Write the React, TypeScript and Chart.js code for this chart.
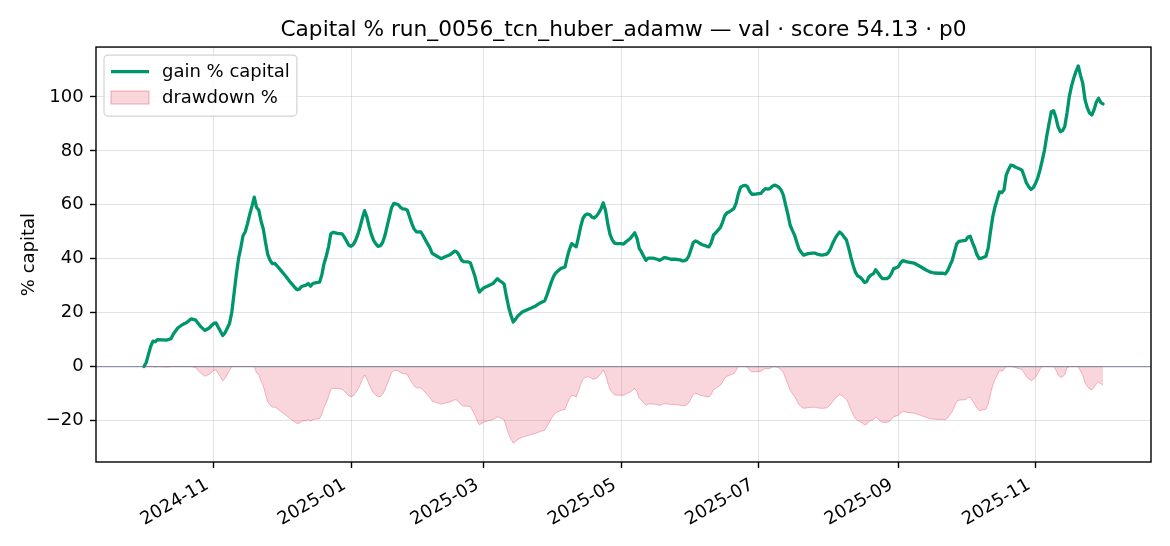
import React, { useEffect, useRef } from "react";
import { Chart, registerables } from "chart.js";

Chart.register(...registerables);

// ---- data ----
const START_DATE = "2024-10-01"; // day offset 0
const dayOffsets = [
  0, 1, 2, 3, 4, 5, 6, 8, 10, 12, 13, 15, 17, 19, 21, 23, 25, 27, 29, 31, 32, 33, 35, 36, 38, 39,
  40, 41, 42, 43, 44, 45, 46, 47, 48, 49, 50, 51, 52, 53, 54, 55, 56, 57, 58, 59, 61, 63, 65, 67,
  68, 69, 70, 72, 73, 74, 75, 76, 78, 79, 80, 81, 82, 83, 84, 86, 88, 89, 90, 91, 92, 93, 94, 95,
  96, 97, 98, 99, 100, 101, 102, 103, 104, 105, 106, 107, 108, 109, 110, 111, 112, 113, 114, 115,
  116, 117, 118, 119, 120, 121, 123, 124, 125, 126, 127, 128, 130, 132, 134, 136, 138, 139, 140,
  141, 142, 144, 145, 146, 147, 148, 149, 150, 151, 153, 155, 157, 158, 159, 160, 161, 162, 163,
  164, 165, 166, 168, 170, 172, 174, 176, 178, 179, 180, 181, 182, 183, 185, 187, 188, 189, 190,
  191, 192, 193, 194, 195, 196, 197, 198, 199, 200, 201, 202, 203, 204, 205, 206, 207, 208, 209,
  210, 212, 213, 214, 216, 218, 219, 220, 221, 222, 223, 224, 226, 228, 229, 230, 231, 232, 234,
  236, 238, 239, 240, 241, 242, 243, 244, 245, 246, 247, 248, 250, 251, 252, 253, 254, 255, 256,
  257, 258, 259, 260, 262, 263, 264, 265, 266, 267, 268, 269, 270, 272, 273, 274, 275, 276, 277,
  278, 279, 280, 281, 282, 283, 284, 285, 286, 287, 288, 289, 290, 291, 292, 293, 294, 295, 297,
  298, 299, 301, 303, 304, 305, 306, 307, 308, 309, 310, 311, 312, 313, 314, 315, 316, 317, 318,
  319, 320, 321, 322, 323, 324, 325, 326, 327, 328, 330, 331, 332, 333, 334, 335, 336, 337, 339,
  342, 345, 347, 349, 351, 353, 355, 356, 357, 358, 359, 360, 361, 362, 364, 365, 366, 367, 368,
  369, 370, 371, 372, 374, 375, 376, 377, 378, 379, 380, 381, 382, 383, 384, 385, 386, 387, 389,
  390, 391, 392, 393, 394, 395, 396, 397, 398, 399, 400, 401, 402, 403, 404, 405, 406, 407, 408,
  409, 410, 411, 412, 413, 414, 415, 416, 417, 418, 419, 420, 421, 422, 423, 424, 425, 426,
];

const gainPct = [
  0, 1.5, 4.5, 7.5, 9.4, 9.2, 10, 9.9, 9.8, 10.3, 12, 14.3, 15.5, 16.3, 17.7, 17.2, 15, 13.4, 14.3,
  16, 16.2, 14.6, 11.5, 12.5, 16, 20,
  27, 34, 40, 44, 48.5, 50, 53, 56.5, 59.5, 62.8, 59, 58, 54, 51, 46, 41.5, 39.5, 38.2, 38.3, 37.5,
  35.5, 33.5, 31.3, 29.3,
  28.5, 28.7, 29.7, 30.2, 30.8, 29.8, 30.8, 31, 31.3, 34, 38.2, 41, 44.5, 49.2, 49.8, 49.4, 49.2,
  48, 46.5, 45, 44.6, 45.3, 46.8, 49,
  51.8, 55, 57.8, 55.5, 52, 49, 46.8, 45.5, 44.6, 44.8, 46, 48.5, 52, 55.5, 59, 60.5, 60.3, 60, 59,
  58.5,
  58.4, 58, 55.5, 53, 51, 50, 49.9, 48.5, 47, 45.5, 44, 42, 41, 40, 40.8, 41.5, 42.8, 42.5, 41.3,
  39.5, 38.9, 38.8, 38.5, 36, 33.5, 30, 27.6, 28.5, 29.2, 30, 30.8, 32.6, 31.8, 31.3, 30.5, 26, 22,
  19,
  16.5, 17.5, 18.7, 20.2, 21, 21.7, 22.5, 23.6, 24.4, 26.5, 29, 31.5, 33.5, 34.8, 36.3, 36.9, 40.5,
  43.5, 45.6,
  45, 44.4, 48, 52, 55, 56.2, 56.6, 56.3, 55.4, 55.1, 55.8, 57, 58.5, 60.7, 58, 53, 49, 47, 45.8,
  45.6, 45.6, 45.4, 46.2, 47.5, 49.6, 47.5, 43.8, 42.5, 40.8, 39.4, 40.2, 40.2, 39.8, 39.4, 39.8,
  40.4, 40.3, 39.8,
  39.8, 39.6, 39.2, 39.2, 39.6, 41, 43.5, 46, 46.6, 46.2, 45.6, 45.2, 44.6, 44.4, 46, 48.8, 49.6,
  50.6, 51.5,
  53.5, 56, 57, 57.4, 58.6, 60.5, 64, 66.5, 67, 67.2, 66.8, 65, 63.9, 64, 64.1, 64.2, 65.2, 66, 65.8,
  66, 66.8, 67.3, 67, 66.5, 65.5, 63.6, 60, 56.5, 52.5, 50.5, 48.7, 46, 43.5, 42.3, 41.3, 41.6, 41.9,
  42.1,
  42.1, 41.7, 41.3, 41.6, 42.3, 43.8, 45.8, 47.5, 48.8, 49.9, 49.2, 48, 47, 44, 40.6, 37.5, 35, 33.6,
  33.2,
  32.4, 31.2, 31.5, 33.2, 34, 34.4, 35.9, 34.8, 33.6, 32.6, 32.6, 33.2, 34.5, 36.3, 36.6, 37, 38.4,
  39.3, 38.8,
  38.4, 37, 36, 35.1, 34.7, 34.6, 34.6, 34.4, 35.6, 37.5, 39.4, 42.5, 45.5, 46.4, 46.7, 46.8, 48,
  48.3, 46,
  44, 41.5, 40, 40.2, 40.9, 44, 50, 55.5, 59.2, 62, 64.8, 64.5, 65.5, 71, 73, 74.7, 74.5, 74, 73.3,
  72.8, 70.5, 68, 66.7, 65.7, 66.3, 67.9, 70, 72.9, 76.5, 80.3, 85.5, 90, 94.5, 94.9, 92.5, 89, 87.1,
  87.5,
  89, 94, 100.1, 104, 107, 109.5, 111.5, 108, 105, 98.9, 96, 94, 93.3, 95.2, 98, 99.5, 97.9, 97.4,
];

const drawdownPct = [
  0, 0, 0, 0, 0, -0.2, 0, -0.1, -0.2, 0, 0, 0, 0, 0, 0, -0.4, -2.3, -3.6, -2.9, -1.4, -1.3, -2.6,
  -5.3, -4.4, -1.4, 0,
  0, 0, 0, 0, 0, 0, 0, 0, 0, 0, -2.3, -3.0, -5.4, -7.2, -10.3, -13.1, -14.3, -15.1, -15.0, -15.5,
  -16.8, -18.0, -19.4, -20.6,
  -21.1, -21.0, -20.3, -20.0, -19.7, -20.3, -19.7, -19.5, -19.4, -17.7, -15.1, -13.4, -11.2, -8.4,
  -8.0, -8.2, -8.4, -9.1, -10.0, -10.9, -11.2, -10.8, -9.8, -8.5,
  -6.8, -4.8, -3.1, -4.5, -6.6, -8.5, -9.8, -10.6, -11.2, -11.1, -10.3, -8.8, -6.6, -4.5, -2.3,
  -1.4, -1.5, -1.7, -2.3, -2.6,
  -2.7, -3.0, -4.5, -6.0, -7.2, -7.9, -7.9, -8.8, -9.7, -10.6, -11.5, -12.8, -13.4, -14.0, -13.5,
  -13.1, -12.3, -12.5, -13.2,
  -14.3, -14.7, -14.7, -14.9, -16.5, -18.0, -20.1, -21.6, -21.1, -20.6, -20.1, -19.7, -18.6, -19.0,
  -19.4, -19.8, -22.6, -25.1, -26.9,
  -28.4, -27.8, -27.1, -26.2, -25.7, -25.2, -24.8, -24.1, -23.6, -22.3, -20.8, -19.2, -18.0, -17.2,
  -16.3, -15.9, -13.7, -11.9, -10.6,
  -10.9, -11.3, -9.1, -6.6, -4.8, -4.1, -3.8, -4.0, -4.5, -4.7, -4.3, -3.6, -2.6, -1.3, -3.0, -6.0,
  -8.5, -9.7, -10.4,
  -10.6, -10.6, -10.7, -10.2, -9.4, -8.1, -9.4, -11.7, -12.5, -13.5, -14.4, -13.9, -13.9, -14.1,
  -14.4, -14.1, -13.8, -13.8, -14.1,
  -14.1, -14.3, -14.5, -14.5, -14.3, -13.4, -11.9, -10.3, -9.9, -10.2, -10.6, -10.8, -11.2, -11.3,
  -10.3, -8.6, -8.1, -7.5, -6.9,
  -5.7, -4.2, -3.6, -3.3, -2.6, -1.4, 0, 0, 0, 0, -0.2, -1.3, -2.0, -1.9, -1.9, -1.8, -1.2, -0.7,
  -0.8,
  -0.7, -0.2, 0, -0.2, -0.5, -1.1, -2.2, -4.4, -6.5, -8.8, -10.0, -11.1, -12.7, -14.2, -14.9, -15.5,
  -15.4, -15.2, -15.1,
  -15.1, -15.3, -15.5, -15.4, -14.9, -14.0, -12.9, -11.8, -11.1, -10.4, -10.8, -11.5, -12.1, -13.9,
  -16.0, -17.8, -19.3, -20.1, -20.4,
  -20.9, -21.6, -21.4, -20.4, -19.9, -19.7, -18.8, -19.4, -20.1, -20.7, -20.7, -20.4, -19.6, -18.5,
  -18.4, -18.1, -17.3, -16.7, -17.0,
  -17.3, -18.1, -18.7, -19.3, -19.5, -19.6, -19.6, -19.7, -19.0, -17.8, -16.7, -14.8, -13.0, -12.5,
  -12.3, -12.3, -11.5, -11.4, -12.7,
  -13.9, -15.4, -16.3, -16.2, -15.8, -13.9, -10.3, -7.0, -4.8, -3.2, -1.5, -1.7, -1.1, 0, 0, 0,
  -0.1, -0.4, -0.8,
  -1.1, -2.4, -3.8, -4.6, -5.2, -4.8, -3.9, -2.7, -1.0, 0, 0, 0, 0, 0, 0, -1.2, -3.0, -4.0, -3.8,
  -3.0, -0.5, 0, 0, 0, 0, 0, -1.7, -3.1, -6.0, -7.3, -8.3, -8.6, -7.7, -6.4, -5.7, -6.4, -6.7,
];

const xTickLabels = ["2024-11", "2025-01", "2025-03", "2025-05", "2025-07", "2025-09", "2025-11"];
const yTickValues = [-20, 0, 20, 40, 60, 80, 100];

const TITLE = "Capital % run_0056_tcn_huber_adamw — val · score 54.13 · p0";
const Y_LABEL = "% capital";
const SERIES_LABELS = ["gain % capital", "drawdown %"];

// ---- styles ----
const FONT = "'DejaVu Sans', 'Liberation Sans', sans-serif";
const GREEN = "#00966b";
const PINK_FILL = "rgba(220, 20, 60, 0.18)";
const PINK_EDGE = "rgba(220, 20, 60, 0.28)";
const GRID = "rgba(176, 176, 176, 0.35)";

function dayOf(iso: string): number {
  const p = iso.split("-").map(Number);
  const s = START_DATE.split("-").map(Number);
  return Math.round((Date.UTC(p[0], p[1] - 1, p[2] || 1) - Date.UTC(s[0], s[1] - 1, s[2])) / 86400000);
}

const overlayPlugin = {
  id: "overlay",
  afterDatasetsDraw(chart: any) {
    const { ctx, chartArea: a, scales } = chart;
    const y0 = scales.y.getPixelForValue(0);
    ctx.save();
    ctx.strokeStyle = "rgba(95, 105, 140, 0.65)";
    ctx.lineWidth = 1.3;
    ctx.beginPath();
    ctx.moveTo(a.left, y0);
    ctx.lineTo(a.right, y0);
    ctx.stroke();
    ctx.restore();
  },
  afterDraw(chart: any) {
    const { ctx, chartArea: a } = chart;
    ctx.save();
    // spines
    ctx.strokeStyle = "#000";
    ctx.lineWidth = 1.4;
    ctx.strokeRect(a.left, a.top, a.right - a.left, a.bottom - a.top);

    // legend (upper left, inside axes)
    const fs = 18;
    ctx.font = `${fs}px ${FONT}`;
    const pad = 7;
    const handleLen = 38;
    const gap = 13;
    const textW = Math.max(...SERIES_LABELS.map((t) => ctx.measureText(t).width));
    const lx = a.left + 8;
    const ly = a.top + 8;
    const w = pad + handleLen + gap + textW + pad;
    const h = 61;
    const rows = [ly + 16.5, ly + 42.5];
    ctx.beginPath();
    if ((ctx as any).roundRect) (ctx as any).roundRect(lx, ly, w, h, 4);
    else ctx.rect(lx, ly, w, h);
    ctx.fillStyle = "rgba(255,255,255,0.85)";
    ctx.fill();
    ctx.strokeStyle = "#d3d3d3";
    ctx.lineWidth = 1.2;
    ctx.stroke();

    const hx = lx + pad;
    // line handle
    ctx.strokeStyle = GREEN;
    ctx.lineWidth = 3.2;
    ctx.beginPath();
    ctx.moveTo(hx, rows[0]);
    ctx.lineTo(hx + handleLen, rows[0]);
    ctx.stroke();
    // patch handle
    ctx.fillStyle = PINK_FILL;
    ctx.fillRect(hx, rows[1] - 6.5, handleLen, 13);
    ctx.strokeStyle = PINK_EDGE;
    ctx.lineWidth = 1.2;
    ctx.strokeRect(hx, rows[1] - 6.5, handleLen, 13);

    ctx.fillStyle = "#000";
    ctx.textAlign = "left";
    ctx.textBaseline = "middle";
    SERIES_LABELS.forEach((t, i) => ctx.fillText(t, hx + handleLen + gap, rows[i] + 1));
    ctx.restore();
  },
};

export default function App() {
  const canvasRef = useRef<HTMLCanvasElement | null>(null);

  useEffect(() => {
    document.body.style.margin = "0";
    const canvas = canvasRef.current;
    if (!canvas) return;

    const xFirst = dayOffsets[0];
    const xLast = dayOffsets[dayOffsets.length - 1];
    const xSpan = xLast - xFirst;
    const allY = [...gainPct, ...drawdownPct];
    const yLo = Math.min(...allY);
    const yHi = Math.max(...allY);
    const ySpan = yHi - yLo;
    const xTickDays = xTickLabels.map((l) => dayOf(l + "-01"));

    const tickFont = { family: FONT, size: 18 };

    const chart = new Chart(canvas, {
      type: "line",
      data: {
        datasets: [
          {
            label: SERIES_LABELS[0],
            data: dayOffsets.map((d, i) => ({ x: d, y: gainPct[i] })),
            borderColor: GREEN,
            borderWidth: 3.3,
            pointRadius: 0,
            tension: 0,
            fill: false,
            borderJoinStyle: "round",
            borderCapStyle: "round",
          },
          {
            label: SERIES_LABELS[1],
            data: dayOffsets.map((d, i) => ({ x: d, y: drawdownPct[i] })),
            borderColor: PINK_EDGE,
            backgroundColor: PINK_FILL,
            borderWidth: 1,
            pointRadius: 0,
            tension: 0,
            fill: "origin",
          },
        ],
      },
      options: {
        animation: false,
        responsive: true,
        maintainAspectRatio: false,
        layout: { padding: { left: 0, right: 19, top: 0, bottom: 0 }, autoPadding: false },
        plugins: {
          legend: { display: false },
          tooltip: { enabled: false },
          title: {
            display: true,
            text: TITLE,
            fullSize: false,
            color: "#000",
            font: { family: FONT, size: 21.7, weight: "normal" },
            padding: { top: 17, bottom: 4 },
          },
        },
        scales: {
          x: {
            type: "linear",
            min: xFirst - 0.05 * xSpan,
            max: xLast + 0.05 * xSpan,
            afterFit: (s: any) => {
              s.height = 84;
            },
            afterBuildTicks: (s: any) => {
              s.ticks = xTickDays.map((v) => ({ value: v }));
            },
            ticks: {
              autoSkip: false,
              minRotation: 30,
              maxRotation: 30,
              padding: 6.3,
              labelOffset: -6.5,
              color: "#000",
              font: tickFont,
              callback: (_v: any, i: number) => xTickLabels[i],
            },
            grid: {
              color: GRID,
              lineWidth: 1,
              tickLength: 6,
              tickColor: "#000",
              tickWidth: 1.4,
            },
            border: { display: false },
          },
          y: {
            type: "linear",
            min: yLo - 0.05 * ySpan,
            max: yHi + 0.05 * ySpan,
            afterFit: (s: any) => {
              s.width = 96;
            },
            afterBuildTicks: (s: any) => {
              s.ticks = yTickValues.map((v) => ({ value: v }));
            },
            ticks: {
              padding: 6.3,
              color: "#000",
              font: tickFont,
              callback: (v: any) => (v < 0 ? "\u2212" + Math.abs(v) : String(v)),
            },
            grid: {
              color: GRID,
              lineWidth: 1,
              tickLength: 6,
              tickColor: "#000",
              tickWidth: 1.4,
            },
            border: { display: false },
            title: {
              display: true,
              text: Y_LABEL,
              color: "#000",
              font: { family: FONT, size: 18 },
              padding: { top: 19, bottom: 0 },
            },
          },
        },
      },
      plugins: [overlayPlugin],
    } as any);

    return () => chart.destroy();
  }, []);

  return (
    <div style={{ width: 1170, height: 546, position: "relative" }}>
      <canvas ref={canvasRef} />
    </div>
  );
}
